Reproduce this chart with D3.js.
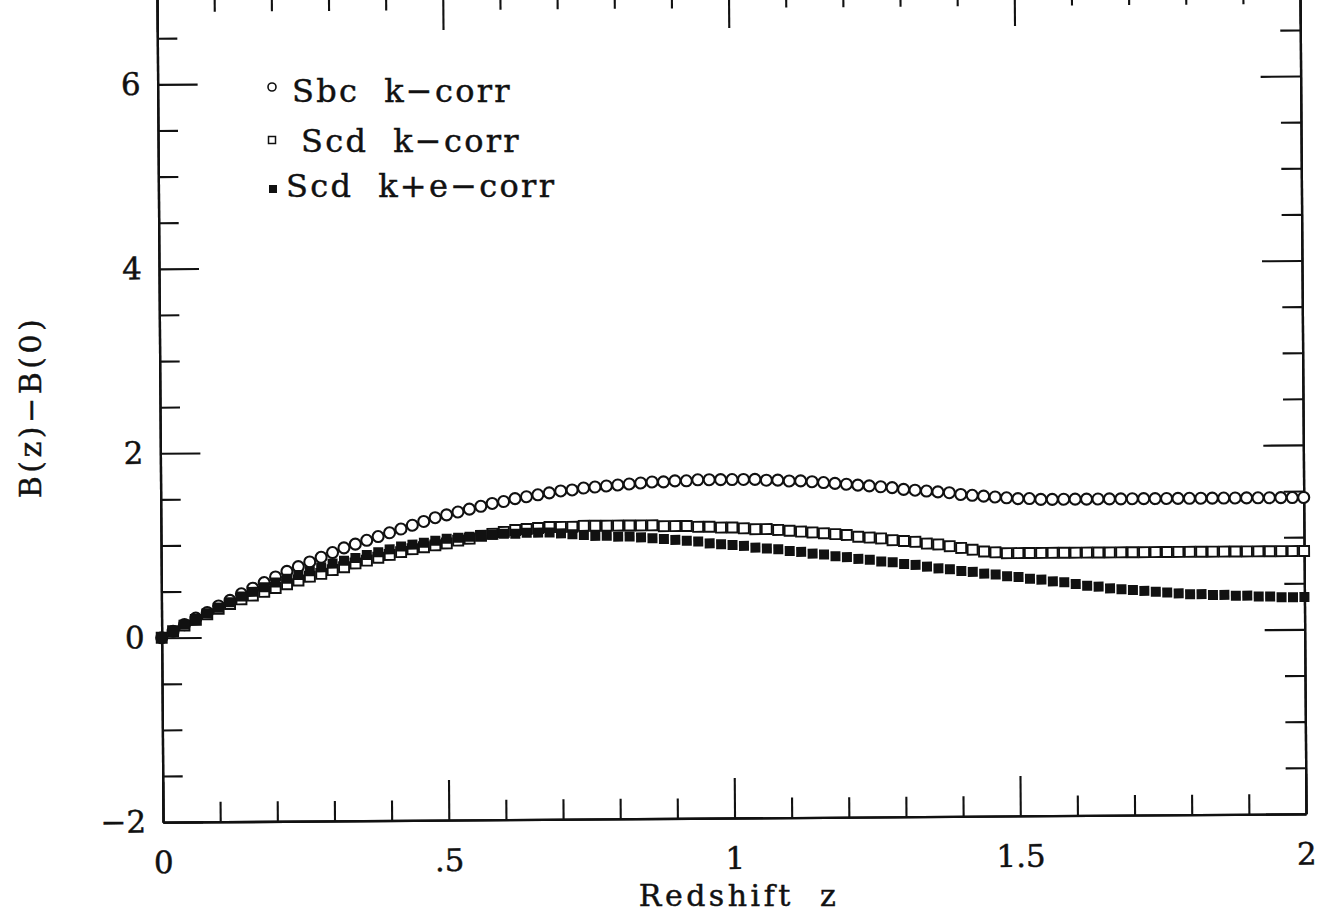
<!DOCTYPE html>
<html>
<head>
<meta charset="utf-8">
<script src="https://cdn.jsdelivr.net/npm/d3@7"></script>
<style>
  html, body { margin: 0; padding: 0; background: #fff; }
  text { font-family: "DejaVu Serif", "Liberation Serif", serif; fill: #111; stroke: #111; stroke-width: 0.45; white-space: pre; }
</style>
</head>
<body>
<div id="chart"></div>
<script>
// redshift grid of the model curves
const redshift = [
  0.00, 0.02, 0.04, 0.06, 0.08, 0.10, 0.12, 0.14, 0.16, 0.18,
  0.20, 0.22, 0.24, 0.26, 0.28, 0.30, 0.32, 0.34, 0.36, 0.38,
  0.40, 0.42, 0.44, 0.46, 0.48, 0.50, 0.52, 0.54, 0.56, 0.58,
  0.60, 0.62, 0.64, 0.66, 0.68, 0.70, 0.72, 0.74, 0.76, 0.78,
  0.80, 0.82, 0.84, 0.86, 0.88, 0.90, 0.92, 0.94, 0.96, 0.98,
  1.00, 1.02, 1.04, 1.06, 1.08, 1.10, 1.12, 1.14, 1.16, 1.18,
  1.20, 1.22, 1.24, 1.26, 1.28, 1.30, 1.32, 1.34, 1.36, 1.38,
  1.40, 1.42, 1.44, 1.46, 1.48, 1.50, 1.52, 1.54, 1.56, 1.58,
  1.60, 1.62, 1.64, 1.66, 1.68, 1.70, 1.72, 1.74, 1.76, 1.78,
  1.80, 1.82, 1.84, 1.86, 1.88, 1.90, 1.92, 1.94, 1.96, 1.98,
  2.00
];

// B(z) - B(0), Sbc k-correction (open circles)
const sbcK = [
  0.00, 0.07, 0.14, 0.21, 0.27, 0.34, 0.40, 0.47, 0.53, 0.59,
  0.65, 0.71, 0.76, 0.81, 0.86, 0.91, 0.96, 1.00, 1.04, 1.08,
  1.12, 1.16, 1.20, 1.24, 1.28, 1.31, 1.34, 1.37, 1.40, 1.43,
  1.45, 1.48, 1.50, 1.52, 1.54, 1.56, 1.57, 1.59, 1.60, 1.61,
  1.62, 1.63, 1.64, 1.65, 1.65, 1.66, 1.66, 1.67, 1.67, 1.67,
  1.67, 1.67, 1.67, 1.66, 1.66, 1.65, 1.65, 1.64, 1.63, 1.62,
  1.61, 1.60, 1.59, 1.58, 1.57, 1.55, 1.54, 1.53, 1.52, 1.51,
  1.49, 1.48, 1.47, 1.46, 1.45, 1.44, 1.44, 1.43, 1.43, 1.43,
  1.43, 1.43, 1.43, 1.43, 1.43, 1.43, 1.43, 1.43, 1.43, 1.43,
  1.43, 1.43, 1.43, 1.43, 1.43, 1.43, 1.43, 1.43, 1.43, 1.43,
  1.43
];

// Scd k-correction (open squares)
const scdK = [
  0.00, 0.07, 0.13, 0.19, 0.25, 0.31, 0.36, 0.41, 0.45, 0.49,
  0.53, 0.57, 0.61, 0.65, 0.68, 0.72, 0.75, 0.79, 0.82, 0.85,
  0.88, 0.91, 0.94, 0.96, 0.98, 1.00, 1.03, 1.05, 1.08, 1.10,
  1.12, 1.14, 1.15, 1.16, 1.17, 1.17, 1.17, 1.18, 1.18, 1.18,
  1.18, 1.18, 1.18, 1.18, 1.17, 1.17, 1.17, 1.16, 1.16, 1.15,
  1.15, 1.14, 1.13, 1.13, 1.12, 1.11, 1.10, 1.09, 1.08, 1.07,
  1.06, 1.04, 1.03, 1.02, 1.00, 0.99, 0.98, 0.96, 0.95, 0.93,
  0.91, 0.89, 0.87, 0.86, 0.85, 0.85, 0.85, 0.85, 0.85, 0.85,
  0.85, 0.85, 0.85, 0.85, 0.85, 0.85, 0.85, 0.85, 0.85, 0.85,
  0.85, 0.85, 0.85, 0.85, 0.85, 0.85, 0.85, 0.85, 0.85, 0.85,
  0.85
];

// Scd k+e-correction (filled squares)
const scdKE = [
  0.00, 0.07, 0.14, 0.20, 0.26, 0.32, 0.38, 0.44, 0.49, 0.54,
  0.59, 0.63, 0.67, 0.71, 0.75, 0.79, 0.82, 0.85, 0.88, 0.91,
  0.94, 0.97, 0.99, 1.01, 1.03, 1.05, 1.06, 1.07, 1.08, 1.09,
  1.10, 1.10, 1.11, 1.11, 1.11, 1.10, 1.09, 1.08, 1.07, 1.07,
  1.06, 1.06, 1.05, 1.04, 1.03, 1.02, 1.01, 1.00, 0.98, 0.97,
  0.96, 0.95, 0.93, 0.92, 0.91, 0.89, 0.88, 0.86, 0.85, 0.83,
  0.82, 0.80, 0.79, 0.77, 0.76, 0.74, 0.73, 0.71, 0.69, 0.68,
  0.66, 0.65, 0.63, 0.62, 0.60, 0.59, 0.57, 0.56, 0.54, 0.53,
  0.51, 0.49, 0.48, 0.46, 0.45, 0.44, 0.43, 0.42, 0.41, 0.40,
  0.39, 0.39, 0.38, 0.38, 0.37, 0.37, 0.36, 0.36, 0.35, 0.35,
  0.35
];

const xMajor = [0, 0.5, 1, 1.5, 2];
const xMinor = [0.1, 0.2, 0.3, 0.4, 0.6, 0.7, 0.8, 0.9, 1.1, 1.2, 1.3, 1.4, 1.6, 1.7, 1.8, 1.9];
const xLabels = ["0", ".5", "1", "1.5", "2"];
const yMajor = [-2, 0, 2, 4, 6];
const yMinor = [-1.5, -1, -0.5, 0.5, 1, 1.5, 2.5, 3, 3.5, 4.5, 5, 5.5, 6.5];
const yLabels = ["\u22122", "0", "2", "4", "6"];

const legendNames = ["Sbc  k\u2212corr", "Scd  k\u2212corr", "Scd  k+e\u2212corr"];

const width = 1323;
const height = 916;
const frame = { left: 160, right: 1303, top: -12, bottom: 818 };

const svg = d3.select("#chart").append("svg")
  .attr("width", width)
  .attr("height", height);

svg.append("rect").attr("width", width).attr("height", height).attr("fill", "#fff");

// the scanned page is a little bit skewed
const plot = svg.append("g")
  .attr("transform", `rotate(-0.42, ${(frame.left + frame.right) / 2}, ${(frame.top + frame.bottom) / 2})`);

const x = d3.scaleLinear().domain([0, 2]).range([frame.left, frame.right]);
const y = d3.scaleLinear().domain([-2, 7]).range([frame.bottom, frame.top]);

function styleAxis(g) {
  g.selectAll("path").attr("stroke", "#111").attr("stroke-width", 2.3);
  g.selectAll("line").attr("stroke", "#111").attr("stroke-width", 2.1);
  g.selectAll("text").attr("font-family", "DejaVu Serif").attr("font-size", 31).attr("fill", "#111");
}

// bottom
plot.append("g")
  .attr("transform", `translate(0,${frame.bottom})`)
  .call(d3.axisBottom(x).tickValues(xMinor).tickSizeInner(-20).tickSizeOuter(0).tickFormat(""))
  .call(styleAxis);
plot.append("g")
  .attr("transform", `translate(0,${frame.bottom})`)
  .call(d3.axisBottom(x).tickValues(xMajor).tickSizeInner(-40).tickSizeOuter(0).tickPadding(29)
    .tickFormat((d, i) => xLabels[i]))
  .call(styleAxis);

// top
plot.append("g")
  .attr("transform", `translate(0,${frame.top})`)
  .call(d3.axisTop(x).tickValues(xMinor).tickSizeInner(-20).tickSizeOuter(0).tickFormat(""))
  .call(styleAxis);
plot.append("g")
  .attr("transform", `translate(0,${frame.top})`)
  .call(d3.axisTop(x).tickValues(xMajor).tickSizeInner(-40).tickSizeOuter(0).tickFormat(""))
  .call(styleAxis);

// left
plot.append("g")
  .attr("transform", `translate(${frame.left},0)`)
  .call(d3.axisLeft(y).tickValues(yMinor).tickSizeInner(-20).tickSizeOuter(0).tickFormat(""))
  .call(styleAxis);
plot.append("g")
  .attr("transform", `translate(${frame.left},0)`)
  .call(d3.axisLeft(y).tickValues(yMajor).tickSizeInner(-40).tickSizeOuter(0).tickPadding(17)
    .tickFormat((d, i) => yLabels[i]))
  .call(styleAxis);

// right
plot.append("g")
  .attr("transform", `translate(${frame.right},0)`)
  .call(d3.axisRight(y).tickValues(yMinor).tickSizeInner(-20).tickSizeOuter(0).tickFormat(""))
  .call(styleAxis);
plot.append("g")
  .attr("transform", `translate(${frame.right},0)`)
  .call(d3.axisRight(y).tickValues(yMajor).tickSizeInner(-40).tickSizeOuter(0).tickFormat(""))
  .call(styleAxis);

// series
const pts = (vals) => redshift.map((z, i) => ({ z: z, v: vals[i] }));
const sq = 10;

plot.append("g")
  .selectAll("circle")
  .data(pts(sbcK))
  .join("circle")
  .attr("cx", d => x(d.z))
  .attr("cy", d => y(d.v))
  .attr("r", 5.5)
  .attr("fill", "#fff")
  .attr("stroke", "#111")
  .attr("stroke-width", 2.1);

plot.append("g")
  .selectAll("rect")
  .data(pts(scdK))
  .join("rect")
  .attr("x", d => x(d.z) - sq / 2)
  .attr("y", d => y(d.v) - sq / 2)
  .attr("width", sq)
  .attr("height", sq)
  .attr("fill", "#fff")
  .attr("stroke", "#111")
  .attr("stroke-width", 1.9);

plot.append("g")
  .selectAll("rect")
  .data(pts(scdKE))
  .join("rect")
  .attr("x", d => x(d.z) - sq / 2)
  .attr("y", d => y(d.v) - sq / 2)
  .attr("width", sq)
  .attr("height", sq)
  .attr("fill", "#111");

// axis titles
svg.append("text")
  .attr("x", 739)
  .attr("y", 906)
  .attr("text-anchor", "middle")
  .attr("font-size", 30)
  .attr("letter-spacing", 3.5)
  .text("Redshift  z");

svg.append("text")
  .attr("transform", "translate(41,407) rotate(-90)")
  .attr("text-anchor", "middle")
  .attr("font-size", 30)
  .attr("letter-spacing", 3.5)
  .text("B(z)\u2212B(0)");

// legend
const legend = svg.append("g");
legend.append("circle").attr("cx", 272).attr("cy", 87).attr("r", 4)
  .attr("fill", "#fff").attr("stroke", "#111").attr("stroke-width", 1.6);
legend.append("rect").attr("x", 268.5).attr("y", 136.5).attr("width", 7).attr("height", 7)
  .attr("fill", "#fff").attr("stroke", "#111").attr("stroke-width", 1.5);
legend.append("rect").attr("x", 269).attr("y", 185).attr("width", 8).attr("height", 8)
  .attr("fill", "#111");

const legendX = [292, 301, 286];
const legendY = [102, 152, 197];
legend.selectAll("text.lab")
  .data(legendNames)
  .join("text")
  .attr("class", "lab")
  .attr("x", (d, i) => legendX[i])
  .attr("y", (d, i) => legendY[i])
  .attr("font-size", 32)
  .attr("letter-spacing", 2.3)
  .text(d => d);
</script>
</body>
</html>
